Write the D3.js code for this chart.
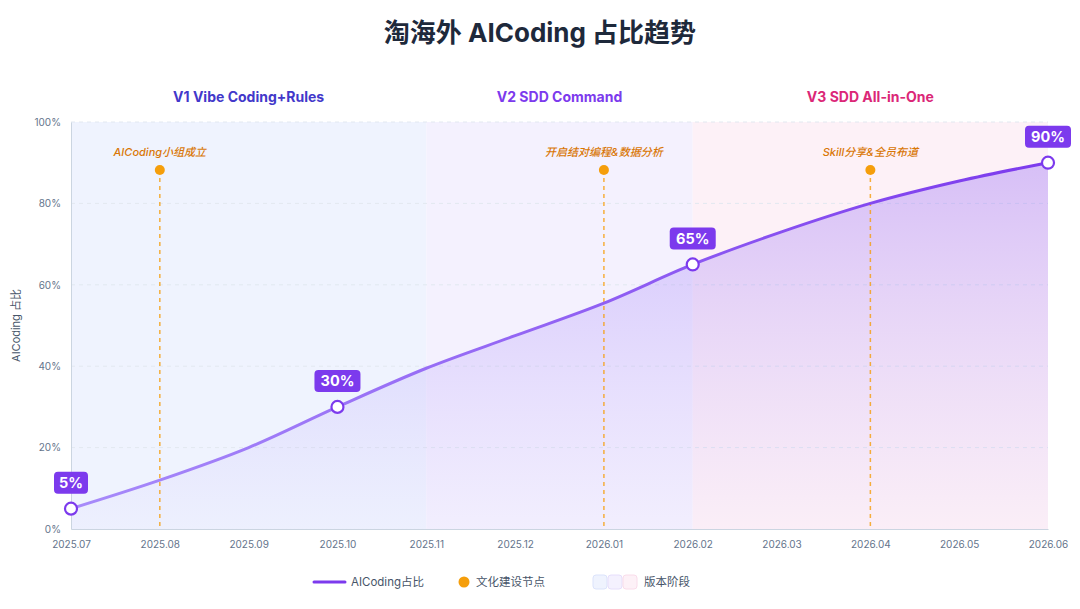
<!DOCTYPE html>
<html>
<head>
<meta charset="utf-8">
<script src="https://cdn.jsdelivr.net/npm/d3@7"></script>
<style>
  html, body { margin: 0; padding: 0; background: #ffffff; }
  svg { display: block; font-family: Inter, "Noto Sans CJK SC", sans-serif; }
</style>
</head>
<body>
<div id="chart"></div>
<script>
// ---- data ----
const months = ["2025.07", "2025.08", "2025.09", "2025.10", "2025.11", "2025.12",
                "2026.01", "2026.02", "2026.03", "2026.04", "2026.05", "2026.06"];
const share = [5, 12, 20, 30, 39.5, 47.5, 55.5, 65, 73, 80, 85.5, 90];
const labeledMonths = ["2025.07", "2025.10", "2026.02", "2026.06"];

const phaseNames = ["V1 Vibe Coding+Rules", "V2 SDD Command", "V3 SDD All-in-One"];
const phaseStart = ["2025.07", "2025.11", "2026.02"];
const phaseEnd = ["2025.11", "2026.02", "2026.06"];
const phaseFill = ["#eff3fe", "#f4f1fe", "#fdf1f7"];
const phaseText = ["#4338ca", "#7c3aed", "#db2777"];

const cultureMonths = ["2025.08", "2026.01", "2026.04"];
const cultureLabels = ["AICoding小组成立", "开启结对编程&数据分析", "Skill分享&全员布道"];

const yTicks = [0, 20, 40, 60, 80, 100];

// ---- layout ----
const W = 1080, H = 609;
const margin = { top: 122, right: 32, bottom: 80, left: 71 };
const iw = W - margin.left - margin.right;
const ih = H - margin.top - margin.bottom;

const svg = d3.select("#chart").append("svg")
    .attr("width", W).attr("height", H);

const defs = svg.append("defs");
const lineGrad = defs.append("linearGradient").attr("id", "lineGrad")
    .attr("gradientUnits", "userSpaceOnUse")
    .attr("x1", 0).attr("x2", iw).attr("y1", 0).attr("y2", 0);
lineGrad.append("stop").attr("offset", "0%").attr("stop-color", "#a78bfa");
lineGrad.append("stop").attr("offset", "100%").attr("stop-color", "#7c3aed");

const areaGrad = defs.append("linearGradient").attr("id", "areaGrad")
    .attr("gradientUnits", "userSpaceOnUse")
    .attr("x1", 0).attr("x2", 0).attr("y1", 0).attr("y2", ih);
areaGrad.append("stop").attr("offset", "0%").attr("stop-color", "#8b5cf6").attr("stop-opacity", 0.38);
areaGrad.append("stop").attr("offset", "100%").attr("stop-color", "#a78bfa").attr("stop-opacity", 0.03);

// title
svg.append("text")
    .attr("x", W / 2).attr("y", 42)
    .attr("text-anchor", "middle")
    .attr("font-size", 26).attr("font-weight", 700)
    .attr("fill", "#1e293b")
    .text("淘海外 AICoding 占比趋势");

const g = svg.append("g").attr("transform", `translate(${margin.left},${margin.top})`);

const x = d3.scalePoint().domain(months).range([0, iw]).padding(0);
const y = d3.scaleLinear().domain([0, 100]).range([ih, 0]);

// phase bands
g.selectAll("rect.phase")
    .data(phaseNames)
    .enter().append("rect")
    .attr("class", "phase")
    .attr("x", (d, i) => x(phaseStart[i]))
    .attr("width", (d, i) => x(phaseEnd[i]) - x(phaseStart[i]))
    .attr("y", 0).attr("height", ih)
    .attr("fill", (d, i) => phaseFill[i]);

g.selectAll("text.phase")
    .data(phaseNames)
    .enter().append("text")
    .attr("class", "phase")
    .attr("x", (d, i) => (x(phaseStart[i]) + x(phaseEnd[i])) / 2)
    .attr("y", -20)
    .attr("text-anchor", "middle")
    .attr("font-size", 14).attr("font-weight", 700)
    .attr("fill", (d, i) => phaseText[i])
    .text(d => d);

// grid
g.selectAll("line.grid")
    .data(yTicks.filter(t => t > 0))
    .enter().append("line")
    .attr("x1", 0).attr("x2", iw)
    .attr("y1", d => y(d)).attr("y2", d => y(d))
    .attr("stroke", "#e2e8f0").attr("stroke-width", 1)
    .attr("stroke-dasharray", "4,4");

// area + line
const area = d3.area()
    .x((d, i) => x(months[i]))
    .y0(ih).y1(d => y(d))
    .curve(d3.curveMonotoneX);
const line = d3.line()
    .x((d, i) => x(months[i]))
    .y(d => y(d))
    .curve(d3.curveMonotoneX);

g.append("path").datum(share)
    .attr("d", area)
    .attr("fill", "url(#areaGrad)");

// axes
const yAxis = g.append("g").call(d3.axisLeft(y).tickValues(yTicks).tickFormat(d => d + "%").tickSize(0).tickPadding(10));
yAxis.select(".domain").attr("stroke", "#cbd5e1");
yAxis.selectAll("text").attr("fill", "#64748b").attr("font-size", 10)
    .attr("font-family", "Inter, sans-serif");

const xAxis = g.append("g").attr("transform", `translate(0,${ih})`)
    .call(d3.axisBottom(x).tickSize(0).tickPadding(12));
xAxis.select(".domain").attr("stroke", "#cbd5e1");
xAxis.selectAll("text").attr("fill", "#64748b").attr("font-size", 10)
    .attr("font-family", "Inter, sans-serif");

svg.append("text")
    .attr("transform", `translate(20,${margin.top + ih / 2}) rotate(-90)`)
    .attr("text-anchor", "middle")
    .attr("font-size", 11).attr("fill", "#475569")
    .text("AICoding 占比");

// culture markers
const cultureY = 48;
g.selectAll("line.culture")
    .data(cultureMonths)
    .enter().append("line")
    .attr("x1", d => x(d)).attr("x2", d => x(d))
    .attr("y1", cultureY).attr("y2", ih)
    .attr("stroke", "#f59e0b").attr("stroke-opacity", 0.8)
    .attr("stroke-width", 1.5)
    .attr("stroke-dasharray", "4,4");

g.selectAll("circle.culture")
    .data(cultureMonths)
    .enter().append("circle")
    .attr("cx", d => x(d)).attr("cy", cultureY).attr("r", 5)
    .attr("fill", "#f59e0b");

g.selectAll("text.culture")
    .data(cultureMonths)
    .enter().append("text")
    .attr("x", d => x(d)).attr("y", 34)
    .attr("text-anchor", "middle")
    .attr("font-size", 11).attr("font-style", "italic").attr("font-weight", 500)
    .attr("fill", "#d97706")
    .text((d, i) => cultureLabels[i]);

// main line
g.append("path").datum(share)
    .attr("d", line)
    .attr("fill", "none")
    .attr("stroke", "url(#lineGrad)")
    .attr("stroke-width", 3)
    .attr("stroke-linecap", "round");

// labelled points
const labeled = labeledMonths.map(m => ({ m, v: share[months.indexOf(m)] }));

g.selectAll("circle.pt")
    .data(labeled)
    .enter().append("circle")
    .attr("cx", d => x(d.m)).attr("cy", d => y(d.v)).attr("r", 6)
    .attr("fill", "#ffffff").attr("stroke", "#7c3aed").attr("stroke-width", 2.2);

const tagWidth = d => (d.v + "%").length * 12 + 10;
const tags = g.selectAll("g.tag")
    .data(labeled)
    .enter().append("g")
    .attr("transform", d => `translate(${x(d.m)},${y(d.v) - 26})`);
tags.append("rect")
    .attr("x", d => -tagWidth(d) / 2)
    .attr("width", tagWidth)
    .attr("y", -11).attr("height", 22).attr("rx", 4)
    .attr("fill", "#7c3aed");
tags.append("text")
    .attr("text-anchor", "middle").attr("dy", "0.36em")
    .attr("font-size", 14.5).attr("font-weight", 700)
    .attr("fill", "#ffffff")
    .text(d => d.v + "%");

// legend
const lg = svg.append("g").attr("transform", "translate(0,582)");
lg.append("line").attr("x1", 314).attr("x2", 345).attr("y1", 0).attr("y2", 0)
    .attr("stroke", "#7c3aed").attr("stroke-width", 3).attr("stroke-linecap", "round");
lg.append("text").attr("x", 351).attr("y", 0).attr("dy", "0.35em")
    .attr("font-size", 11.5).attr("fill", "#475569").text("AICoding占比");
lg.append("circle").attr("cx", 464).attr("cy", 0).attr("r", 5.5).attr("fill", "#f59e0b");
lg.append("text").attr("x", 476).attr("y", 0).attr("dy", "0.35em")
    .attr("font-size", 11.5).attr("fill", "#475569").text("文化建设节点");
lg.selectAll("rect.sw")
    .data(phaseFill)
    .enter().append("rect")
    .attr("x", (d, i) => 593 + i * 15).attr("y", -7)
    .attr("width", 14).attr("height", 14).attr("rx", 3)
    .attr("fill", d => d)
    .attr("stroke", (d, i) => [ "#dbe3fb", "#e6defb", "#f9dcea" ][i]);
lg.append("text").attr("x", 644).attr("y", 0).attr("dy", "0.35em")
    .attr("font-size", 11.5).attr("fill", "#475569").text("版本阶段");
</script>
</body>
</html>
